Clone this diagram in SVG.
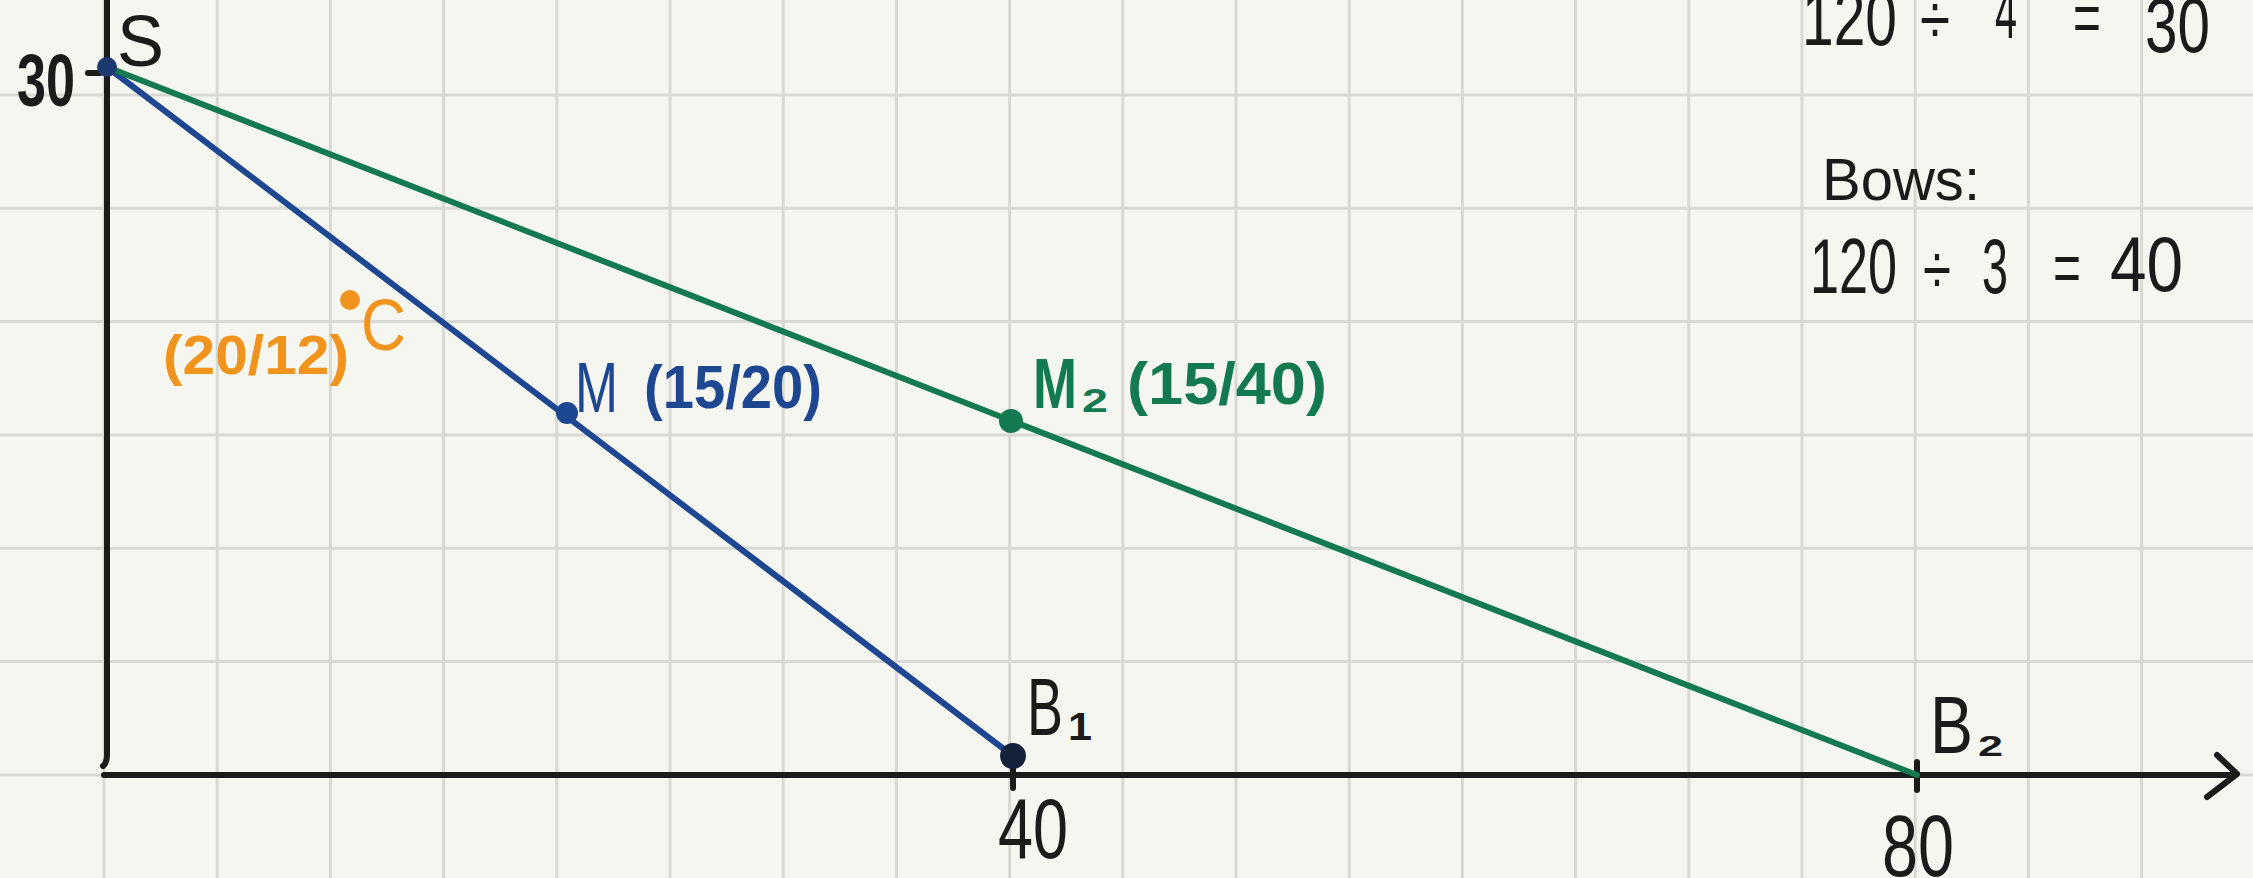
<svg xmlns="http://www.w3.org/2000/svg" width="2253" height="878" viewBox="0 0 2253 878">
<style>
.grid{stroke:#d9d9d4;stroke-width:3;fill:none}
.ax{stroke:#1b1b1b;stroke-width:6;fill:none;stroke-linecap:round;stroke-linejoin:round}
.t{font-family:"Liberation Sans",Arial,sans-serif}
.k{fill:#1b1b1b}
.b{fill:#1d4791}
.g{fill:#137a50}
.o{fill:#f0941d}
.blue{stroke:#1d4791;stroke-width:6;fill:none;stroke-linecap:round}
.green{stroke:#137a50;stroke-width:6;fill:none;stroke-linecap:round}
</style>
<rect width="2253" height="878" fill="#f6f6f1"/>
<g id="grid" class="grid">
<path d="M104 0V878M217.2 0V878M330.4 0V878M443.6 0V878M556.8 0V878M670 0V878M783.2 0V878M896.4 0V878M1009.6 0V878M1122.8 0V878M1236 0V878M1349.2 0V878M1462.4 0V878M1575.6 0V878M1688.8 0V878M1802 0V878M1915.2 0V878M2028.4 0V878M2141.6 0V878"/>
<path d="M0 95H2253M0 208.3H2253M0 321.6H2253M0 435H2253M0 548.3H2253M0 661.6H2253M0 775H2253"/>
</g>
<g id="axes">
<path class="ax" d="M107 0V755Q107 763 103 766"/>
<path class="ax" d="M104 775H2235"/>
<path class="ax" d="M2217 755L2237 774L2207 797"/>
<path class="ax" d="M88 73H100"/>
<path class="ax" d="M1013 760V788"/>
<path class="ax" d="M1917 762V790"/>
<text class="t k" x="17" y="106" font-size="74" font-weight="bold" textLength="58" lengthAdjust="spacingAndGlyphs">30</text>
<text class="t k" x="998" y="858" font-size="86" textLength="70" lengthAdjust="spacingAndGlyphs">40</text>
<text class="t k" x="1882" y="876" font-size="88" textLength="72" lengthAdjust="spacingAndGlyphs">80</text>
</g>
<g id="connectors">
<path id="line-S-B1" class="blue" d="M107 67L1013 756"/>
<path id="line-S-B2" class="green" d="M107 67L1917 775"/>
</g>
<g id="node-S">
<circle cx="107" cy="67" r="10" fill="#1d3a6e"/>
<text class="t k" x="117" y="66" font-size="72" textLength="47" lengthAdjust="spacingAndGlyphs">S</text>
</g>
<g id="node-C">
<circle cx="350" cy="300" r="10" fill="#f0941d"/>
<text class="t o" font-weight="bold"><tspan x="163" y="374" font-size="56" textLength="186" lengthAdjust="spacingAndGlyphs">(20/12)</tspan><tspan x="361" y="350" font-size="72" font-weight="normal" textLength="45" lengthAdjust="spacingAndGlyphs">C</tspan></text>
</g>
<g id="node-M">
<circle cx="567" cy="413" r="11" fill="#1d4791"/>
<text class="t b"><tspan x="575" y="412" font-size="70" textLength="43" lengthAdjust="spacingAndGlyphs">M</tspan><tspan x="644" y="408" font-size="62" font-weight="bold" textLength="178" lengthAdjust="spacingAndGlyphs">(15/20)</tspan></text>
</g>
<g id="node-M2">
<circle cx="1011" cy="421" r="12" fill="#137a50"/>
<text class="t g" font-weight="bold"><tspan x="1033" y="408" font-size="70" textLength="44" lengthAdjust="spacingAndGlyphs">M</tspan><tspan x="1082" y="412" font-size="34" textLength="26" lengthAdjust="spacingAndGlyphs">2</tspan><tspan x="1127" y="404" font-size="60" textLength="200" lengthAdjust="spacingAndGlyphs">(15/40)</tspan></text>
</g>
<g id="node-B1">
<circle cx="1013" cy="756" r="13" fill="#14213d"/>
<text class="t k"><tspan x="1027" y="735" font-size="82" textLength="36" lengthAdjust="spacingAndGlyphs">B</tspan><tspan x="1068" y="740" font-size="38" font-weight="bold" textLength="24" lengthAdjust="spacingAndGlyphs">1</tspan></text>
</g>
<g id="node-B2">
<text class="t k"><tspan x="1930" y="753" font-size="82" textLength="43" lengthAdjust="spacingAndGlyphs">B</tspan><tspan x="1978" y="756" font-size="30" font-weight="bold" textLength="25" lengthAdjust="spacingAndGlyphs">2</tspan></text>
</g>
<g id="notes" class="t k">
<text><tspan x="1802" y="45" font-size="78" textLength="95" lengthAdjust="spacingAndGlyphs">120</tspan><tspan x="1920" y="44" font-size="70" textLength="30" lengthAdjust="spacingAndGlyphs">÷</tspan><tspan x="1995" y="38" font-size="78" textLength="22" lengthAdjust="spacingAndGlyphs">4</tspan><tspan x="2073" y="42" font-size="70" textLength="28" lengthAdjust="spacingAndGlyphs">=</tspan><tspan x="2145" y="52" font-size="78" textLength="65" lengthAdjust="spacingAndGlyphs">30</tspan></text>
<text x="1822" y="200" font-size="60" textLength="158" lengthAdjust="spacingAndGlyphs">Bows:</text>
<text><tspan x="1810" y="293" font-size="78" textLength="87" lengthAdjust="spacingAndGlyphs">120</tspan><tspan x="1923" y="294" font-size="70" textLength="28" lengthAdjust="spacingAndGlyphs">÷</tspan><tspan x="1982" y="293" font-size="78" textLength="26" lengthAdjust="spacingAndGlyphs">3</tspan><tspan x="2053" y="292" font-size="70" textLength="28" lengthAdjust="spacingAndGlyphs">=</tspan><tspan x="2110" y="291" font-size="78" textLength="73" lengthAdjust="spacingAndGlyphs">40</tspan></text>
</g>
</svg>
